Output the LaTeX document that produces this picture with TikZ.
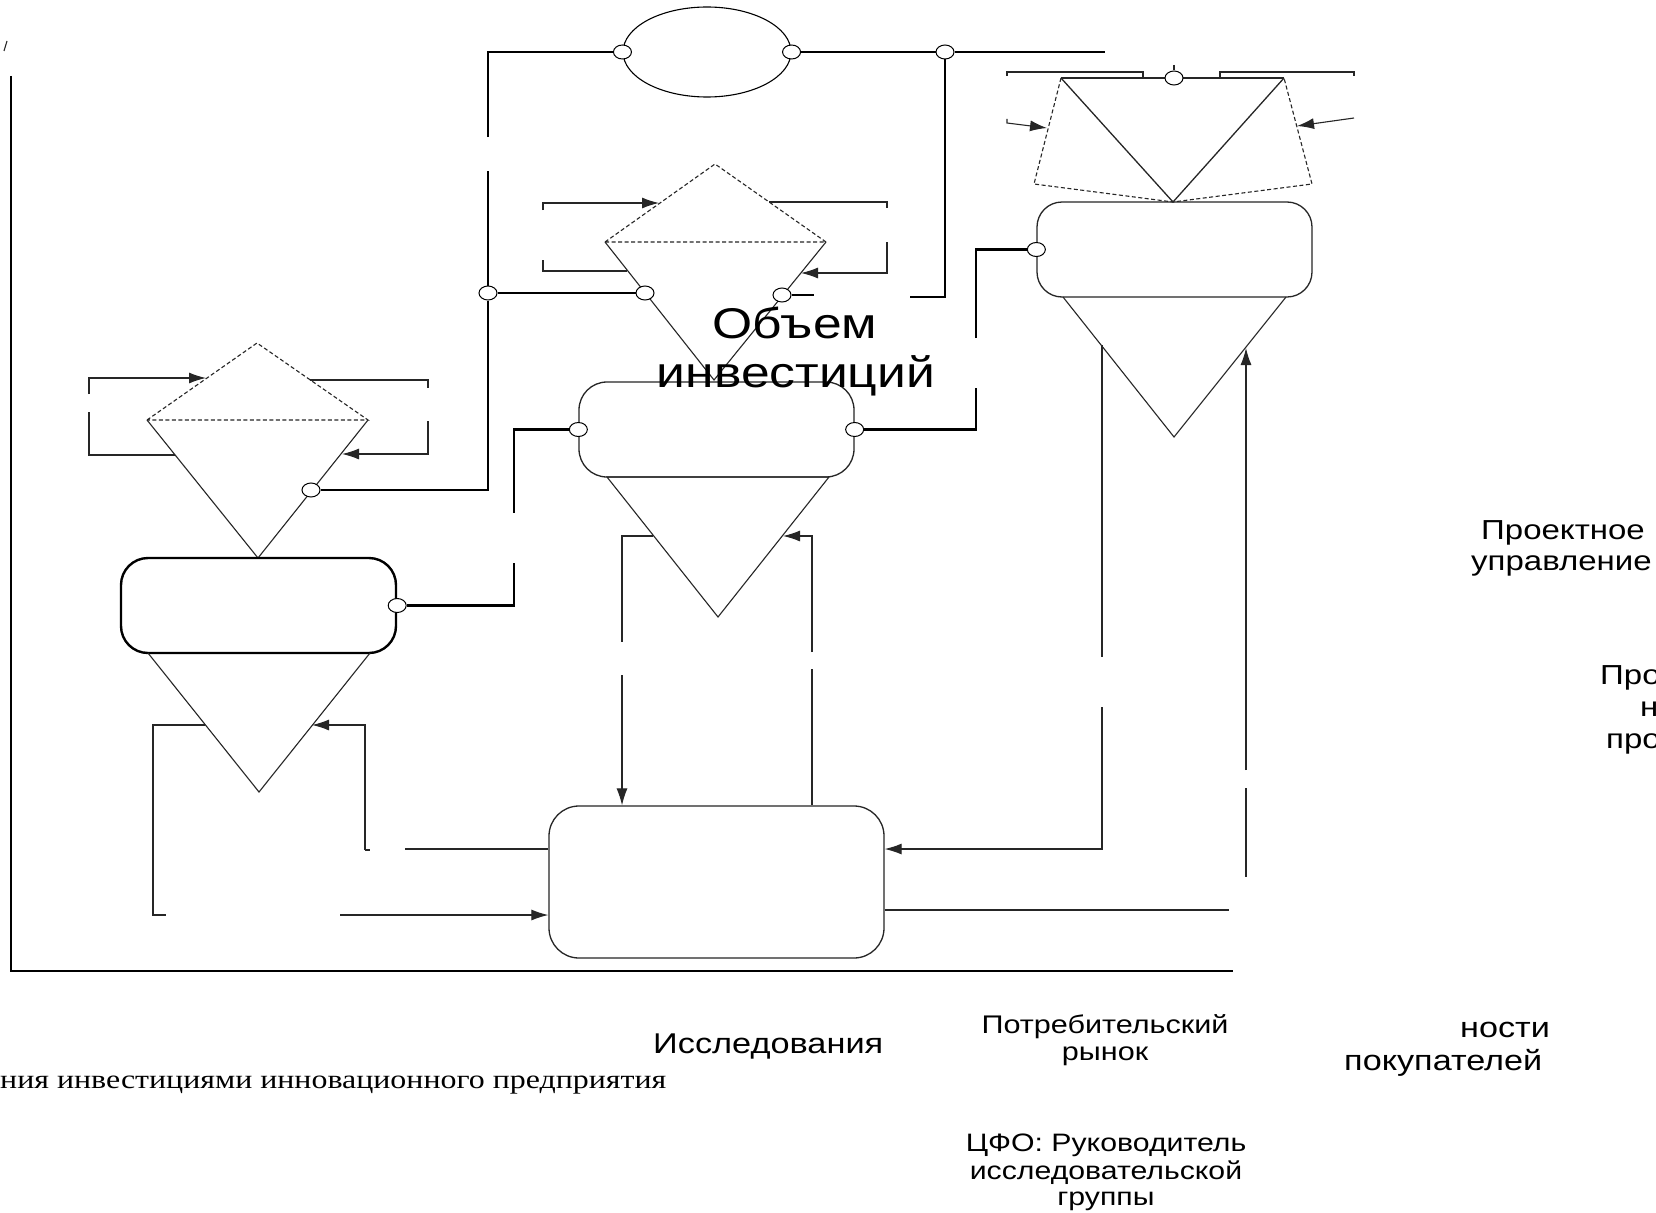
\documentclass[tikz,border=0pt]{standalone}
\usepackage{fontspec}
\setmainfont{Liberation Serif}[FakeStretch=1.2]
\newfontfamily\lsans{Liberation Sans}[FakeStretch=1.2]
\usetikzlibrary{arrows.meta,shapes.geometric}

\begin{document}
\begin{tikzpicture}[x=1pt,y=-1pt,
  wire/.style={line width=2.6pt,black},
  frameline/.style={line width=2.8pt,black},
  fine/.style={line width=1.1pt,black!85},
  dashedge/.style={fine,dash pattern=on 4pt off 2.5pt},
  arr/.style={fine,-{Latex[length=17pt,width=11pt]}},
  port/.style={ellipse,draw=black,line width=1pt,fill=white,
    minimum width=18pt,minimum height=14pt,inner sep=0pt},
  rbox/.style={draw=black!85,line width=1.3pt,inner sep=0pt},
  lbl/.style={inner sep=0pt,anchor=base},
]
\useasboundingbox (0,0) rectangle (1656,1212);
\fill[white] (0,0) rectangle (1656,1212);

% outer frame
\draw[fine] (4,51) -- (7,41);
\draw[frameline] (11,76) -- (11,971) -- (1233,971);

% ---------- shapes ----------
% top oval
\node[ellipse,draw=black,line width=1.1pt,minimum width=168pt,minimum height=90pt,inner sep=0pt] (oval) at (707,52) {};

% left diamond
\draw[dashedge] (147,420) -- (257,343) -- (368,420) -- cycle;
\draw[fine] (147,420) -- (258,558) -- (368,420);
% left box and its triangle
\node[rbox,line width=2.4pt,draw=black,rounded corners=27pt,minimum width=275pt,minimum height=95pt] (bl) at (258.5,605.5) {};
\draw[fine] (148,653) -- (259,792) -- (370,653);

% middle diamond
\draw[dashedge] (605,242) -- (715,164) -- (826,242) -- cycle;
\draw[fine] (605,242) -- (714,380) -- (826,242);
% middle box and its triangle
\node[rbox,rounded corners=28pt,minimum width=275pt,minimum height=95pt] (bm) at (716.5,429.5) {};
\draw[fine] (607,477) -- (718,617) -- (829,477) -- cycle;

% bottom box
\node[rbox,rounded corners=30pt,minimum width=335pt,minimum height=152pt] (bb) at (716.5,882) {};

% right box, triangle and funnel
\node[rbox,rounded corners=25pt,minimum width=275pt,minimum height=95pt] (br) at (1174.5,249.5) {};
\draw[fine] (1063,297) -- (1174,437) -- (1286,297);
\coordinate (vl) at (1061,78);
\coordinate (vr) at (1284,78);
\coordinate (vtip) at (1173,202);
\draw[fine,line width=1.3pt] (vl) -- (vtip) -- (vr);
\draw[fine,line width=1.3pt] (vl) -- (vr);
\draw[dashedge] (vl) -- (1034,184) -- (vtip) -- (1312,184) -- (vr);

% ---------- ports ----------
\node[port] (p1) at (oval.west) {};
\node[port] (p2) at (oval.east) {};
\node[port] (p3) at (945,52) {};
\node[port] (p4) at (488,293) {};
\node[port] (p5) at (645,293) {};
\node[port] (p6) at (782,295) {};
\node[port] (p7) at (311,490) {};
\node[port] (p8) at (bl.east) {};
\node[port] (p9) at (bm.west) {};
\node[port] (p10) at (bm.east) {};
\node[port] (p11) at (br.west) {};
\node[port] (p12) at (1174,78) {};

% ---------- thick links ----------
\coordinate (a1) at (488,137);
\coordinate (a2) at (488,171);
\coordinate (a3) at (1105,52);
\coordinate (a4) at (910,297);
\coordinate (a5) at (814,295);
\coordinate (a6) at (514,513);
\coordinate (a7) at (514,563);
\coordinate (a8) at (976,388);
\coordinate (a9) at (976,338);
\draw[wire] (a1) |- (p1);
\draw[wire] (p2) -- (p3);
\draw[wire] (p3) -- (a3);
\draw[wire] (p3) |- (a4);
\draw[wire] (p6) -- (a5);
\draw[wire] (a2) -- (p4);
\draw[wire] (p4) |- (p7);
\draw[wire] (p4) -- (p5);
\draw[wire] (p9) -| (a6);
\draw[wire] (a7) |- (p8);
\draw[wire] (p10) -| (a8);
\draw[wire] (a9) |- (p11);

% ---------- thin loops ----------
% left diamond
\draw[arr] (89,394) |- (206,378);
\draw[fine] (89,412) |- (175,455);
\draw[fine] (310,380) -| (428,388);
\draw[arr] (428,421) |- (342,454);
% left triangle
\draw[fine] (205,725) -| (153,915) -- (166,915);
\draw[arr] (365,850) |- (312,725);
\draw[fine] (365,850) -- (370,850);
\coordinate (b1) at (405,849);
\coordinate (b2) at (340,915);
\draw[fine] (b1) -- (bb.west |- b1);
\draw[arr] (b2) -- (bb.west |- b2);
% middle diamond
\draw[arr] (543,210) |- (659,203);
\draw[fine] (543,260) |- (627,271);
\draw[fine] (769,202) -| (887,208);
\draw[arr] (887,242) |- (801,273);
% middle triangle
\coordinate (m1) at (622,675);
\coordinate (m2) at (812,669);
\draw[fine] (653,536) -| (622,642);
\draw[arr] (m1) -- (bb.north -| m1);
\draw[arr] (812,652) |- (783,536);
\draw[fine] (m2) -- (bb.north -| m2);
% right funnel
\draw[fine] (1007,76) |- (1143,72) -- (1143,78);
\draw[fine] (1220,78) |- (1354,72) -- (1354,76);
\draw[fine] (1174,65) -- (p12.north);
\draw[arr] (1007,119) -- (1007,123) -- (1047,128);
\draw[arr] (1354,118) -- (1297,126);
% right triangle
\coordinate (r1) at (1102,707);
\coordinate (r2) at (1229,910);
\draw[fine] (1102,345) -- (1102,657);
\draw[arr] (r1) |- (bb.east |- 0,849);
\draw[fine] (bb.east |- r2) -- (r2);
\draw[arr] (1246,770) -- (1246,348);
\draw[fine] (1246,788) -- (1246,877);

% ---------- labels ----------
\begin{scope}[font=\lsans]
\node[lbl,font=\lsans\fontsize{43}{48}\selectfont] (t1) at (795,338) {Объем};
\node[lbl,font=\lsans\fontsize{43}{48}\selectfont] (t2) at (796,387) {инвестиций};
\node[lbl,anchor=base west,font=\lsans\fontsize{27.5}{32}\selectfont] (t3) at (1481,539) {Проектное};
\node[lbl,anchor=base west,font=\lsans\fontsize{27.5}{32}\selectfont] (t4) at (1471,570) {управление};
\node[lbl,anchor=base west,font=\lsans\fontsize{27.5}{32}\selectfont] (t5) at (1600,684) {Про};
\node[lbl,anchor=base west,font=\lsans\fontsize{27.5}{32}\selectfont] (t6) at (1640,716) {н};
\node[lbl,anchor=base west,font=\lsans\fontsize{27.5}{32}\selectfont] (t7) at (1606,748) {про};
\node[lbl,anchor=base west,font=\lsans\fontsize{28.6}{32}\selectfont] (t8) at (653,1053) {Исследования};
\node[lbl,font=\lsans\fontsize{25.5}{28}\selectfont] (t9) at (1105,1033) {Потребительский};
\node[lbl,font=\lsans\fontsize{25.5}{28}\selectfont] (t10) at (1105,1060) {рынок};
\node[lbl,anchor=base west,font=\lsans\fontsize{28.5}{30}\selectfont] (t11) at (1460,1037) {ности};
\node[lbl,anchor=base west,font=\lsans\fontsize{28.5}{30}\selectfont] (t12) at (1344,1070) {покупателей};
\node[lbl,font=\lsans\fontsize{25.2}{28}\selectfont] (t13) at (1106,1151) {ЦФО: Руководитель};
\node[lbl,font=\lsans\fontsize{25.2}{28}\selectfont] (t14) at (1106,1179) {исследовательской};
\node[lbl,font=\lsans\fontsize{25.2}{28}\selectfont] (t15) at (1106,1205) {группы};
\end{scope}
\node[lbl,anchor=base west,font=\fontsize{26.6}{32}\selectfont] (cap) at (0,1088) {ния инвестициями инновационного предприятия};
\end{tikzpicture}
\end{document}
